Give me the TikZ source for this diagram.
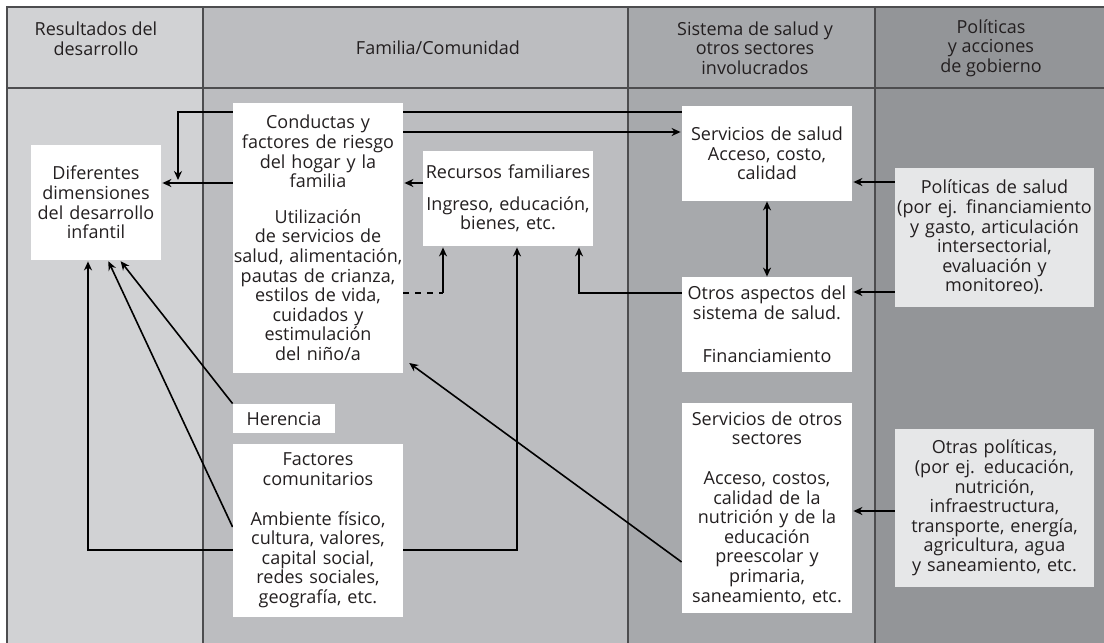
\documentclass[tikz,border=0pt]{standalone}
\usepackage{fontspec}
\setmainfont{Open Sans}
\usetikzlibrary{arrows.meta, calc}
\definecolor{colA}{HTML}{D1D2D4}
\definecolor{colB}{HTML}{BCBDC0}
\definecolor{colC}{HTML}{A7A9AC}
\definecolor{colD}{HTML}{939598}
\definecolor{cajagris}{HTML}{E6E7E8}
\definecolor{texto}{HTML}{231F20}
\definecolor{borde}{HTML}{4D4D4F}
\pgfdeclarelayer{fondo}
\pgfsetlayers{fondo,main}
\newcommand\letracaja{\fontsize{9}{9.8}\selectfont\lineskiplimit=-100pt\relax}

\begin{document}
\begin{tikzpicture}[x=0.5pt, y=-0.5pt, text=texto, font=\letracaja,
    caja/.style={fill=white, align=center, inner sep=0pt},
    politica/.style={caja, fill=cajagris},
    encabezado/.style={align=center, inner sep=0pt},
    linea/.style={draw=borde, line width=0.6pt},
    flecha/.style={thick, -{Stealth[length=4.5pt, width=4pt]}, shorten >=0.5pt},
    dobleflecha/.style={thick, {Stealth[length=4.5pt, width=4pt]}-{Stealth[length=4.5pt, width=4pt]}}]
    \useasboundingbox (0,0) rectangle (1104,643);
    \begin{pgfonlayer}{fondo}
    % Columnas
    \fill[colA] (7,7) rectangle (203,643);
    \fill[colB] (203,7) rectangle (628,643);
    \fill[colC] (628,7) rectangle (875,643);
    \fill[colD] (875,7) rectangle (1104,643);
    % Bordes
    \draw[linea] (7,643) -- (7,7) -- (1104,7);
    \draw[linea] (7,88) -- (1104,88);
    \foreach \x in {203,628,875}
        \draw[linea] (\x,7) -- (\x,643);
    \end{pgfonlayer}
    % Encabezados
    \node[encabezado] (h1) at (96,38.5) {Resultados del\\desarrollo};
    \node[encabezado] (h2) at (438,48) {Familia/Comunidad};
    \node[encabezado] (h3) at (755,48) {Sistema de salud y\\otros sectores\\involucrados};
    \node[encabezado] (h4) at (991,48) {Políticas\\y acciones\\de gobierno};
    % Cajas
    \node[caja, text width=65pt, minimum height=57.5pt] (dif) at (96,202.5)
        {Diferentes\\dimensiones\\del desarrollo\\infantil};
    \node[caja, text width=85pt, minimum height=135pt] (cond) at (318,238)
        {Conductas y\\factores de riesgo\\del hogar y la\\familia\\[8pt]Utilización\\de servicios de\\salud, alimentación,\\pautas de crianza,\\estilos de vida,\\cuidados y\\estimulación\\del niño/a};
    \node[caja, text width=85pt, minimum height=47.5pt] (rec) at (508,198.5)
        {Recursos familiares\\[6pt]Ingreso, educación,\\bienes, etc.};
    \node[caja, text width=85pt, minimum height=47.5pt] (servsal) at (767,153.5)
        {Servicios de salud\\Acceso, costo,\\calidad};
    \node[caja, text width=85pt, minimum height=47.5pt] (otros) at (767,324.5)
        {Otros aspectos del\\sistema de salud.\\[12pt]Financiamiento};
    \node[politica, text width=99.5pt, minimum height=69.5pt] (polsal) at (994.5,237.5)
        {Políticas de salud\\(por ej. financiamiento\\y gasto, articulación\\intersectorial,\\evaluación y\\monitoreo).};
    \node[caja, text width=51pt, minimum height=14.5pt] (her) at (284,418.5) {Herencia};
    \node[caja, text width=85pt, minimum height=86.5pt] (fac) at (318,530.5)
        {Factores\\comunitarios\\[10pt]Ambiente físico,\\cultura, valores,\\capital social,\\redes sociales,\\geografía, etc.};
    \node[caja, text width=85pt, minimum height=105pt] (servotr) at (767,508)
        {Servicios de otros\\sectores\\[10pt]Acceso, costos,\\calidad de la\\nutrición y de la\\educación\\preescolar y\\primaria,\\saneamiento, etc.};
    \node[politica, text width=99.5pt, minimum height=79pt] (otraspol) at (994.5,508)
        {Otras políticas,\\(por ej. educación,\\nutrición,\\infraestructura,\\transporte, energía,\\agricultura, agua\\y saneamiento, etc.};
    % Conectores
    \coordinate (bajada) at (178,181);
    \begin{pgfonlayer}{fondo}
    \draw[flecha] (cond.west |- 0,183) -- (dif.east |- 0,183);
    \draw[flecha] (servsal.west |- 0,112) -| (bajada);
    \draw[flecha] (cond.east |- 0,132) -- (servsal.west |- 0,132);
    \draw[flecha] (rec.west |- 0,183) -- (cond.east |- 0,183);
    \draw[dobleflecha] (servsal.south) -- (otros.north);
    \draw[flecha] (polsal.west |- 0,182) -- (servsal.east |- 0,182);
    \draw[flecha] (polsal.west |- 0,292) -- (otros.east |- 0,292);
    \draw[flecha] (otros.west |- 0,293) -| (rec.south -| 579,0);
    \draw[thick, dashed] (cond.east |- 0,293) -- (443,293);
    \draw[flecha] (443,293) -- (rec.south -| 443,0);
    \draw[flecha] (fac.east |- 0,550) -| (rec.south -| 517,0);
    \draw[flecha] (fac.west |- 0,550) -| (dif.south -| 88,0);
    \draw[flecha] (fac.west |- 0,527) -- (dif.south -| 108,0);
    \draw[flecha] (her.north west) -- (dif.south -| 120,0);
    \draw[flecha] (servotr.west |- 0,562) -- ($(cond.south east)+(5,-11)$);
    \draw[flecha] (otraspol.west |- 0,511) -- (servotr.east |- 0,511);
    \end{pgfonlayer}
\end{tikzpicture}
\end{document}
